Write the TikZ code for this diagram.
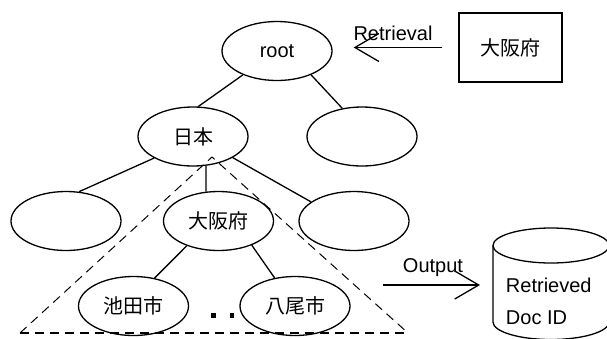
\documentclass[tikz,border=0pt]{standalone}
\usepackage{fontspec}
\setmainfont{Liberation Sans}
\newfontfamily\cjk{Noto Sans CJK JP}
\usetikzlibrary{arrows.meta}
\usetikzlibrary{shapes.geometric}

\begin{document}
\begin{tikzpicture}[x=1pt,y=-1pt,line width=1.3pt,
    font=\fontsize{20}{24}\selectfont,
    nd/.style={draw,ellipse,minimum width=110pt,minimum height=59pt,inner sep=0pt},
    dsh/.style={dash pattern=on 9pt off 6pt,line width=1pt},
    >={Straight Barb[length=24pt,width=28pt]}]
    \useasboundingbox (0,0) rectangle (607,338);
    \clip (0,0) rectangle (607,338);
    % tree
    \node[nd] (root) at (277,51) {root};
    \node[nd] (japan) at (193,136.5) {\cjk 日本};
    \node[nd] (r2) at (362,136.5) {};
    \node[nd] (l3) at (66,221) {};
    \node[nd] (osaka) at (218.5,221) {\cjk 大阪府};
    \node[nd] (r3) at (354,221) {};
    \node[nd] (ikeda) at (133.5,306) {\cjk 池田市};
    \node[nd] (yao) at (295,306) {\cjk 八尾市};
    \draw (root.215) -- (japan.80);
    \draw (root.325) -- (r2.125);
    \draw (japan.209) -- (l3.66);
    \draw (japan.294) -- (osaka.113);
    \draw (japan.332) -- (r3.156);
    \draw (osaka.218) -- (ikeda.53);
    \draw (osaka.324) -- (yao.126);
    \fill (211,313) rectangle (215.5,317.5);
    \fill (229.5,313) rectangle (234,317.5);
    % subtree
    \coordinate (apex) at (212,157);
    \coordinate (bl) at (20,333);
    \coordinate (br) at (408,333);
    \draw[dsh] (bl) -- (apex) -- (br);
    \draw[dsh,line width=2pt] (bl) -- (br);
    % query
    \node[draw,minimum width=103pt,minimum height=69pt] (query) at (510.5,47.5) {\cjk 大阪府};
    \draw[->,shorten <=16pt,shorten >=21pt] (query.west) -- (query.west -| root.east);
    \node (retr) at (393,33) {Retrieval};
    % result
    \draw (551,245.5) ellipse [x radius=58,y radius=17.5];
    \draw (493,245.5) -- (493,322) arc[start angle=180,end angle=0,x radius=58,y radius=17.5] -- (609,245.5);
    \coordinate (out) at (383,285);
    \coordinate (db) at (480,285);
    \draw[->] (out) -- (db);
    \node (outp) at (433,268) {Output};
    \node[anchor=west] (ret) at (502,285) {Retrieved};
    \node[anchor=west] (docid) at (502,318) {Doc ID};
\end{tikzpicture}
\end{document}
